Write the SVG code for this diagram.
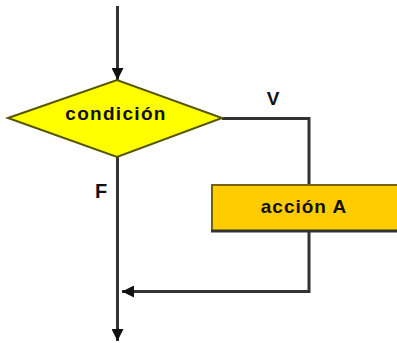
<svg xmlns="http://www.w3.org/2000/svg" width="397" height="343" viewBox="0 0 397 343">
<style>
.ln{stroke:#333;stroke-width:3;fill:none}
.t{font-family:"Liberation Sans",Arial,sans-serif;font-weight:bold;fill:#111}
</style>
<defs>
<marker id="ah" markerWidth="4" markerHeight="4" refX="4" refY="2" orient="auto" markerUnits="strokeWidth">
<path d="M0,0 L4,2 L0,4 Z" fill="#111"/>
</marker>
</defs>
<rect width="397" height="343" fill="#fff"/>
<g id="connectors">
<path class="ln" d="M117.5,6 V80" marker-end="url(#ah)"/>
<path class="ln" d="M222,118.5 H309 V185"/>
<path class="ln" d="M309,231 V291.5 H122" marker-end="url(#ah)"/>
<path class="ln" d="M117.5,157 V341" marker-end="url(#ah)"/>
</g>
<g id="condicion">
<polygon points="8,118 117,80 222,118 117,157" fill="#FFFF00" stroke="#555500" stroke-width="2"/>
<text class="t" x="116" y="120" font-size="19" letter-spacing="1.3" text-anchor="middle">condición</text>
</g>
<g id="accionA">
<rect x="212" y="185" width="190" height="46" fill="#FFCC00" stroke="#7A6200" stroke-width="2"/>
<line x1="211" y1="231" x2="397" y2="231" stroke="#333" stroke-width="3"/>
<text class="t" x="304" y="213" font-size="19" letter-spacing="1" text-anchor="middle">acción A</text>
</g>
<g id="labels">
<text class="t" x="273" y="105" font-size="19" text-anchor="middle">V</text>
<text class="t" x="101" y="198" font-size="20" text-anchor="middle">F</text>
</g>
</svg>
